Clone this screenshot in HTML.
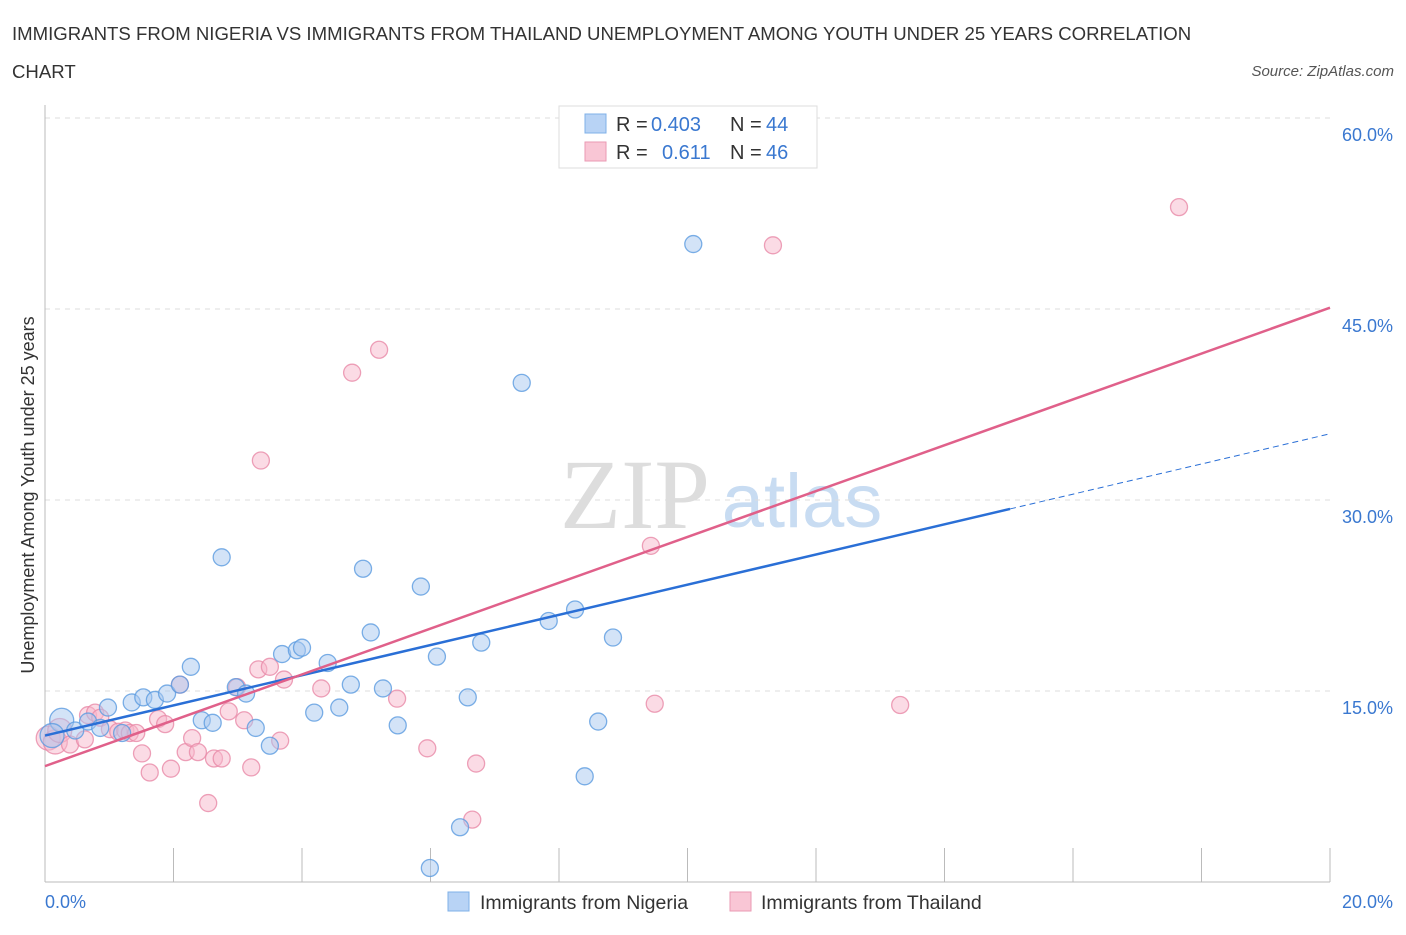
<!DOCTYPE html>
<html><head><meta charset="utf-8"><style>
body{margin:0;background:#fff;font-family:"Liberation Sans",sans-serif}
</style></head><body>
<svg width="1406" height="930" xmlns="http://www.w3.org/2000/svg" font-family="Liberation Sans, sans-serif">
<text x="12" y="40" font-size="18.6" fill="#333">IMMIGRANTS FROM NIGERIA VS IMMIGRANTS FROM THAILAND UNEMPLOYMENT AMONG YOUTH UNDER 25 YEARS CORRELATION</text>
<text x="12" y="78" font-size="18.6" fill="#333">CHART</text>
<text x="1394" y="76" font-size="15" fill="#555" font-style="italic" text-anchor="end">Source: ZipAtlas.com</text>
<text x="635" y="528" font-size="100" fill="#ddd" font-family="Liberation Serif, serif" text-anchor="middle">ZIP</text>
<text x="802" y="527" font-size="76" fill="#c8dcf2" text-anchor="middle">atlas</text>
<g id="grid"></g><g id="axes"></g><g id="marks"></g>
<text x="34" y="495" font-size="18" fill="#333" text-anchor="middle" transform="rotate(-90 34 495)">Unemployment Among Youth under 25 years</text>
<g>
<rect x="559" y="106" width="258" height="62" fill="#fff" stroke="#ddd"/>
<rect x="585" y="114" width="21" height="19" fill="#b8d3f5" stroke="#7fb0e8"/>
<rect x="585" y="142" width="21" height="19" fill="#f9c6d5" stroke="#ea9ab3"/>
<text x="616" y="131" font-size="20" fill="#333">R = <tspan fill="#3a78d0" x="651">0.403</tspan></text>
<text x="730" y="131" font-size="20" fill="#333">N = <tspan fill="#3a78d0" x="766">44</tspan></text>
<text x="616" y="159" font-size="20" fill="#333">R = <tspan fill="#3a78d0" x="662">0.611</tspan></text>
<text x="730" y="159" font-size="20" fill="#333">N = <tspan fill="#3a78d0" x="766">46</tspan></text>
</g>
<g>
<rect x="448" y="892" width="21" height="19" fill="#b8d3f5" stroke="#7fb0e8"/>
<text x="480" y="909" font-size="19.5" fill="#333">Immigrants from Nigeria</text>
<rect x="730" y="892" width="21" height="19" fill="#f9c6d5" stroke="#ea9ab3"/>
<text x="761" y="909" font-size="19.5" fill="#333">Immigrants from Thailand</text>
</g>
</svg>
<script>
const yTicks=[15,30,45,60];
const yTickLabels=["15.0%","30.0%","45.0%","60.0%"];
const xTicks=[0,2,4,6,8,10,12,14,16,18,20];
const nigeriaX=[0.26,0.11,0.47,0.67,0.86,0.98,1.20,1.35,1.53,1.71,1.90,2.10,2.27,2.44,2.61,2.75,2.97,3.13,3.28,3.50,3.69,3.92,4.00,4.19,4.40,4.58,4.76,4.95,5.07,5.26,5.49,5.85,6.10,6.46,6.58,6.79,7.42,7.84,8.25,8.40,8.61,8.84,10.09,5.99];
const nigeriaY=[12.7,11.5,11.9,12.6,12.1,13.7,11.7,14.1,14.5,14.3,14.8,15.5,16.9,12.7,12.5,25.5,15.3,14.8,12.1,10.7,17.9,18.2,18.4,13.3,17.2,13.7,15.5,24.6,19.6,15.2,12.3,23.2,17.7,4.3,14.5,18.8,39.2,20.5,21.4,8.3,12.6,19.2,50.1,1.1];
const thaiX=[0.05,0.16,0.23,0.39,0.62,0.67,0.78,0.86,1.01,1.14,1.25,1.32,1.42,1.51,1.63,1.76,1.87,1.96,2.10,2.19,2.29,2.38,2.54,2.63,2.75,2.86,2.99,3.10,3.21,3.32,3.36,3.50,3.66,3.72,4.30,4.78,5.20,5.48,5.95,6.65,6.71,9.43,9.49,11.33,13.31,17.65];
const thaiY=[11.3,11.0,11.9,10.8,11.2,13.1,13.3,12.9,12.0,11.8,11.9,11.7,11.7,10.1,8.6,12.8,12.4,8.9,15.5,10.2,11.3,10.2,6.2,9.7,9.7,13.4,15.3,12.7,9.0,16.7,33.1,16.9,11.1,15.9,15.2,40.0,41.8,14.4,10.5,4.9,9.3,26.4,14.0,50.0,13.9,53.0];
const nigeriaTrend=[11.5,1.185];
const thaiTrend=[9.1,1.8];
const NS="http://www.w3.org/2000/svg";
const X=v=>45+v/20*1285, Y=v=>882-v/60*764;
function mk(t,a,p){const e=document.createElementNS(NS,t);for(const k in a)e.setAttribute(k,a[k]);p.appendChild(e);return e;}
const grid=document.getElementById('grid'),axes=document.getElementById('axes'),marks=document.getElementById('marks');
yTicks.forEach((t,i)=>{
 const l=mk('line',{x1:45,x2:1330,y1:Y(t),y2:Y(t),stroke:'#ddd','stroke-dasharray':'5,5'},grid);
 
 
 const tx=mk('text',{x:1393,y:Y(t)+23,'font-size':18,fill:'#3a78d0','text-anchor':'end'},axes);
 tx.textContent=yTickLabels[i];
 
 
});
const ya=mk('line',{x1:45,x2:45,y1:105,y2:882,stroke:'#bbb'},axes);


const xa=mk('line',{x1:45,x2:1330,y1:882,y2:882,stroke:'#bbb'},axes);


xTicks.forEach(t=>{const l=mk('line',{x1:X(t),x2:X(t),y1:848,y2:882,stroke:'#bbb'},axes);
 
 });
const xl0=mk('text',{x:45,y:908,'font-size':18,fill:'#3a78d0'},axes);xl0.textContent='0.0%';


const xl1=mk('text',{x:1393,y:908,'font-size':18,fill:'#3a78d0','text-anchor':'end'},axes);xl1.textContent='20.0%';


function pts(xs,ys,fill,stroke,name){xs.forEach((x,i)=>{const big=(x<0.3);const c=mk('circle',{cx:X(x),cy:Y(ys[i]),r:big?12:8.5,fill:fill,'fill-opacity':0.5,stroke:stroke,'stroke-width':1.3,'stroke-opacity':0.8},marks);
 
 });}
pts(thaiX,thaiY,'#f7b8cc','#e88aa8','thailand-point');
pts(nigeriaX,nigeriaY,'#a8c8f0','#5b9be0','nigeria-point');
const tb=v=>nigeriaTrend[0]+nigeriaTrend[1]*v, tp=v=>thaiTrend[0]+thaiTrend[1]*v;
const bl=mk('line',{x1:X(0),y1:Y(tb(0)),x2:X(15.02),y2:Y(tb(15.02)),stroke:'#2a6fd6','stroke-width':2.5},marks);


const bd=mk('line',{x1:X(15.02),y1:Y(tb(15.02)),x2:X(20),y2:Y(tb(20)),stroke:'#2a6fd6','stroke-width':1,'stroke-dasharray':'6,4'},marks);


const pl=mk('line',{x1:X(0),y1:Y(tp(0)),x2:X(20),y2:Y(tp(20)),stroke:'#e0608a','stroke-width':2.5},marks);


</script>
</body></html>
